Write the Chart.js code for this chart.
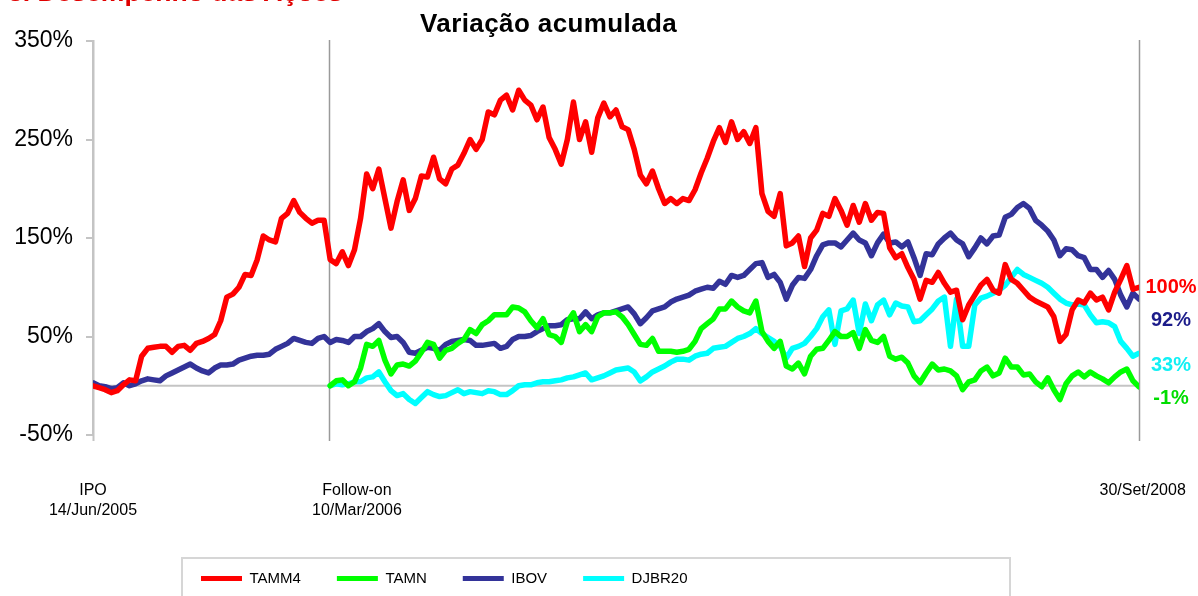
<!DOCTYPE html>
<html lang="pt">
<head>
    <meta charset="UTF-8">
    <title>Variação acumulada</title>
    <style>
        html, body {
            margin: 0;
            padding: 0;
            background: #fff;
            overflow: hidden;
        }
        body {
            width: 1198px;
            height: 596px;
            position: relative;
            font-family: 'Liberation Sans', Arial, sans-serif;
        }
        #header {
            position: absolute;
            left: 8px;
            top: -21px;
            font-size: 26.5px;
            line-height: 26px;
            font-weight: bold;
            color: #e00000;
            white-space: nowrap;
        }
        #title {
            position: absolute;
            left: 420px;
            top: 10px;
            font-size: 26px;
            line-height: 26px;
            letter-spacing: 0.4px;
            font-weight: bold;
            color: #000;
            white-space: nowrap;
        }
        canvas {
            position: absolute;
            left: 0;
            top: 0;
        }
    </style>
</head>
<body>
    <canvas id="chart" width="1198" height="596"></canvas>
    <div id="header">3. Desempenho das Ações</div>
    <div id="title">Variação acumulada</div>

    <script src="https://cdn.jsdelivr.net/npm/chart.js"></script>
    <script>
        // semanas desde o IPO (14/Jun/2005) até 30/Set/2008
        const weeks = Array.from({ length: 173 }, (_, i) => i);
        const followOnWeek = 38.8;

        // variação acumulada (%), leitura semanal
        const tamm4 = [0,-2,-4,-7,-5,1,6,5,30,38, 39,40,40,34,40,41,36,43,45,48,
            52,66,90,93,100,113,112,128,152,148, 146,170,175,188,176,170,165,168,168,128,
            124,136,122,138,170,215,200,220,190,160, 187,209,178,190,213,212,232,210,205,220,
            224,236,250,240,250,278,275,290,295,280, 300,290,285,270,283,252,240,225,250,288,
            250,268,237,272,287,273,280,263,260,240, 214,205,218,200,185,190,185,190,188,199,
            216,231,248,262,247,268,250,258,246,262, 195,177,172,195,142,145,152,121,150,158,
            175,172,190,178,163,183,166,185,168,176, 175,140,130,134,120,108,88,107,105,115,
            104,95,97,67,82,92,102,108,97,94, 123,108,104,97,90,86,83,80,70,45,
            52,77,87,84,94,87,90,77,95,108, 122,98,100];

        const ibov = [3,0,-1,-3,-2,3,0,2,5,7, 6,5,10,13,16,19,22,18,15,13,
            18,21,21,22,26,28,30,31,31,32, 37,40,43,48,46,44,43,48,50,44,
            47,46,44,50,50,55,58,63,55,49, 50,44,34,33,36,39,38,36,42,45,
            46,47,46,41,41,42,43,38,40,47, 50,50,51,55,58,61,61,62,67,68,
            68,75,68,72,74,74,76,78,80,73, 63,69,76,78,80,85,88,90,92,96,
            98,100,99,106,103,112,110,112,118,124, 125,110,113,105,88,102,110,109,118,132,
            143,145,145,141,148,155,148,145,132,145, 154,145,146,141,146,130,112,134,133,144,
            150,155,148,144,131,140,150,144,152,153, 171,174,181,185,180,168,163,157,148,132,
            139,138,132,130,118,118,110,117,108,92, 80,94,88];

        // TAMN e DJBR20 começam no Follow-on (semana 39)
        const tamnFromFollowOn = [0,5,6,0,4,18,42,40,46,26,
            12,21,22,20,25,34,44,42,28,36, 38,43,47,57,53,62,66,72,72,72,
            80,79,75,66,59,68,52,50,44,65, 74,55,62,55,70,74,74,75,70,62,
            52,42,41,48,35,35,35,34,35,37, 45,58,63,68,78,78,86,80,76,74,
            86,55,45,38,45,20,17,23,12,30, 37,38,46,55,50,50,54,38,57,46,
            44,50,30,27,29,23,10,3,13,22, 16,17,15,10,-4,4,6,15,19,10,
            13,28,19,19,11,12,4,-1,8,-4, -14,2,10,14,9,14,10,7,3,9,
            14,17,5,-1];

        const djbr20FromFollowOn = [0,2,1,2,4,4,8,9,14,4,
            -5,-10,-8,-14,-18,-12,-6,-9,-11,-10, -7,-4,-8,-6,-7,-8,-5,-6,-9,-9,
            -5,0,1,1,3,4,4,5,6,8, 9,11,13,6,8,10,13,16,17,18,
            14,5,9,14,17,20,24,27,27,26, 30,32,33,38,39,40,44,48,50,53,
            58,53,49,45,40,28,38,40,43,50, 58,70,77,42,76,78,87,53,83,66,
            82,87,72,84,81,80,65,66,72,78, 86,90,40,88,40,40,82,89,91,94,
            97,102,110,118,113,110,107,104,100,94, 88,84,82,83,82,72,64,65,64,60,
            45,38,30,33];

        const startOffset = weeks.length - tamnFromFollowOn.length;
        const tamn = weeks.map((w, i) => i < startOffset ? null : tamnFromFollowOn[i - startOffset]);
        const djbr20 = weeks.map((w, i) => i < startOffset ? null : djbr20FromFollowOn[i - startOffset]);

        // eixo x: marcos
        const tickWeeks = [0, 43.4, 172.6];
        const tickLabels = [['IPO', '14/Jun/2005'], ['Follow-on', '10/Mar/2006'], ['30/Set/2008']];
        const eventWeeks = [0, followOnWeek, 172];

        // rótulos finais (texto, posição y em %, cor)
        const endLabels = [
            { text: '100%', at: 100, color: '#ff0000' },
            { text: '92%', at: 66, color: '#1c1c8a' },
            { text: '33%', at: 21, color: '#11f0f4' },
            { text: '-1%', at: -13, color: '#00dd00' }
        ];

        const toXY = arr => weeks.map((w, i) => ({ x: w, y: arr[i] }));

        // linhas de referência e moldura da legenda
        const decorPlugin = {
            id: 'decor',
            afterLayout(chart) {
                // legenda alinhada à esquerda como no original
                chart.legend.left = 165;
            },
            beforeDatasetsDraw(chart) {
                const { ctx, chartArea, scales } = chart;
                const y0 = scales.y.getPixelForValue(0);
                ctx.save();
                ctx.strokeStyle = '#c4c4c4';
                ctx.lineWidth = 2;
                ctx.beginPath();
                ctx.moveTo(chartArea.left, y0);
                ctx.lineTo(chartArea.right, y0);
                ctx.stroke();
                eventWeeks.forEach((w, i) => {
                    const x = Math.round(scales.x.getPixelForValue(w)) + 0.5;
                    ctx.strokeStyle = i === 0 ? '#c4c4c4' : '#9a9a9a';
                    ctx.lineWidth = i === 0 ? 2 : 1.5;
                    ctx.beginPath();
                    ctx.moveTo(x, chartArea.top - 1);
                    ctx.lineTo(x, chartArea.bottom + 6);
                    ctx.stroke();
                });
                ctx.restore();
            },
            afterDraw(chart) {
                const { ctx, chartArea, scales, legend } = chart;
                ctx.save();
                ctx.font = 'bold 20px "Liberation Sans", Arial, sans-serif';
                ctx.textAlign = 'center';
                ctx.textBaseline = 'middle';
                endLabels.forEach(l => {
                    ctx.fillStyle = l.color;
                    ctx.fillText(l.text, chartArea.right + 32, scales.y.getPixelForValue(l.at));
                });
                // moldura da legenda
                ctx.strokeStyle = '#d6d6d6';
                ctx.lineWidth = 2;
                ctx.strokeRect(legend.left + 17, legend.top + 23, 828, 60);
                ctx.restore();
            }
        };

        Chart.defaults.font.family = "'Liberation Sans', Arial, sans-serif";
        Chart.defaults.color = '#000';

        new Chart(document.getElementById('chart'), {
            type: 'line',
            data: {
                datasets: [
                    { label: 'TAMM4', data: toXY(tamm4), borderColor: '#ff0000', backgroundColor: '#ff0000' },
                    { label: 'TAMN', data: toXY(tamn), borderColor: '#00ff00', backgroundColor: '#00ff00' },
                    { label: 'IBOV', data: toXY(ibov), borderColor: '#333399', backgroundColor: '#333399' },
                    { label: 'DJBR20', data: toXY(djbr20), borderColor: '#00ffff', backgroundColor: '#00ffff' }
                ]
            },
            options: {
                responsive: false,
                animation: false,
                events: [],
                datasets: {
                    line: {
                        borderWidth: 5.5,
                        pointRadius: 0,
                        tension: 0,
                        borderJoinStyle: 'round',
                        borderCapStyle: 'round',
                        spanGaps: false
                    }
                },
                layout: { padding: { left: 0, right: 59, top: 41, bottom: 0 } },
                plugins: {
                    title: { display: false },
                    tooltip: { enabled: false },
                    legend: {
                        position: 'bottom',
                        align: 'start',
                        labels: {
                            boxWidth: 41,
                            boxHeight: 5,
                            padding: 36,
                            color: '#000',
                            font: { size: 15 },
                            generateLabels: chart => chart.data.datasets.map((ds, i) => ({
                                text: ds.label,
                                fillStyle: ds.borderColor,
                                strokeStyle: ds.borderColor,
                                lineWidth: 0,
                                hidden: false,
                                datasetIndex: i,
                                fontColor: '#000'
                            }))
                        }
                    }
                },
                scales: {
                    x: {
                        type: 'linear',
                        min: 0,
                        max: 172,
                        grid: { display: false },
                        border: { display: false },
                        afterBuildTicks: scale => {
                            scale.ticks = tickWeeks.map(v => ({ value: v }));
                        },
                        ticks: {
                            autoSkip: false,
                            maxRotation: 0,
                            padding: 38,
                            font: { size: 16, lineHeight: 1.25 },
                            callback: (value, index) => tickLabels[index]
                        },
                        afterFit: scale => {
                            scale.height = 100;
                            scale.paddingLeft = 0;
                            scale.paddingRight = 0;
                        }
                    },
                    y: {
                        min: -50,
                        max: 350,
                        grid: {
                            drawOnChartArea: false,
                            drawTicks: true,
                            tickLength: 7,
                            color: '#c4c4c4',
                            lineWidth: 2
                        },
                        border: { display: true, color: '#c4c4c4', width: 2 },
                        ticks: {
                            stepSize: 100,
                            padding: 13,
                            font: { size: 23 },
                            callback: v => v + '%'
                        },
                        afterFit: scale => {
                            scale.width = 93;
                            scale.paddingTop = 0;
                            scale.paddingBottom = 0;
                        }
                    }
                }
            },
            plugins: [decorPlugin]
        });
    </script>
</body>
</html>
